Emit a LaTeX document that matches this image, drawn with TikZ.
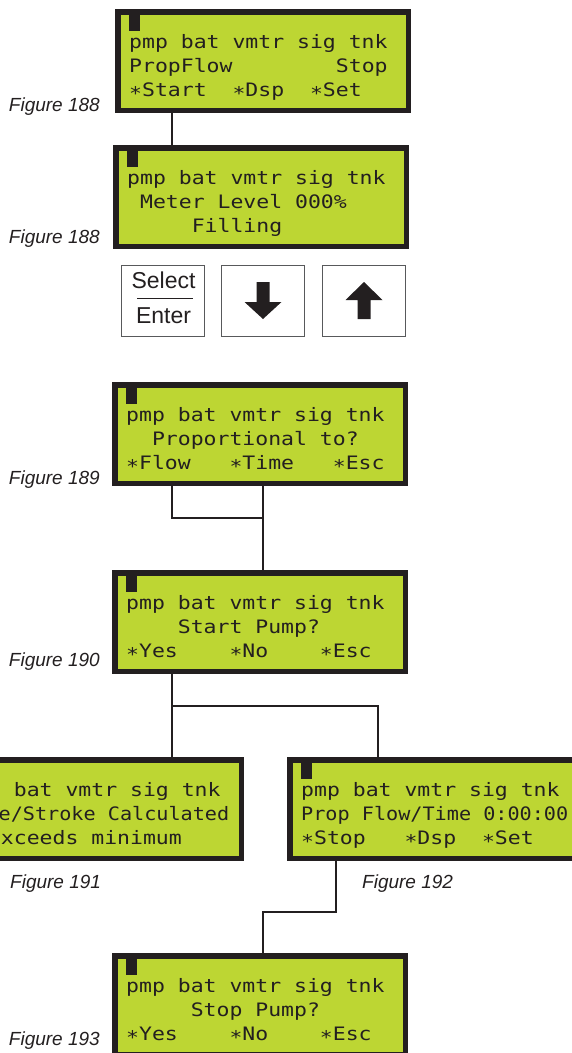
\documentclass[tikz,border=0pt]{standalone}
\usepackage{fontspec}
\usetikzlibrary{calc}
\setmainfont{Liberation Sans}
\newfontfamily\lcdfont[FakeStretch=1.16]{DejaVu Sans Mono}
\newfontfamily\lcdnarrow[FakeStretch=1.09]{DejaVu Sans Mono}
\definecolor{lcdgreen}{HTML}{BDD633}
\definecolor{ink}{HTML}{231F20}
\definecolor{keyframe}{HTML}{58595B}

\newcommand\lcd[5]{%
  \node[lcdbox] (#1) at (#2) {};
  \fill[ink] ($(#1.north west)+(14,5)$) rectangle ++(11,17);
  \node[lcdrow] (#1-r1) at ($(#1.north west)+(14,39)$) {#3};
  \node[lcdrow] (#1-r2) at ($(#1.north west)+(14,63)$) {#4};
  \node[lcdrow] (#1-r3) at ($(#1.north west)+(14,87)$) {#5};
}

\begin{document}
\begin{tikzpicture}[x=1pt,y=-1pt,
  lcdbox/.style={draw=ink,line width=5.5pt,outer sep=2.75pt,fill=lcdgreen,inner sep=0pt,
    minimum width=290.5pt,minimum height=98.5pt,anchor=north west},
  lcdrow/.style={anchor=base west,inner sep=0pt,text=ink,font=\lcdfont\fontsize{18.5}{22}\selectfont},
  keybox/.style={draw=keyframe,line width=1pt,inner sep=0pt,minimum width=83pt,minimum height=71pt},
  keytext/.style={anchor=base,inner sep=0pt,text=ink,font=\fontsize{23}{26}\selectfont},
  figlabel/.style={anchor=base east,inner sep=0pt,text=ink,font=\fontsize{19}{22}\selectfont\itshape},
  wire/.style={draw=ink,line width=2pt}]
  \useasboundingbox (0,0) rectangle (572,1053);
  \clip (0,0) rectangle (572,1053);

  \coordinate (colA) at (172,0);
  \coordinate (colB) at (263,0);
  \coordinate (colC) at (378,0);
  \coordinate (colD) at (336,0);

  \lcd{b188a}{115,9}{pmp bat vmtr sig tnk}{PropFlow~~~~~~~~Stop}{∗Start~~∗Dsp~~∗Set}
  \lcd{b188b}{113,145}{pmp bat vmtr sig tnk}{~Meter Level 000\%}{~~~~~Filling}
  \lcd{b189}{112,382}{pmp bat vmtr sig tnk}{~~Proportional to?}{∗Flow~~~∗Time~~~∗Esc}
  \lcd{b190}{112,570}{pmp bat vmtr sig tnk}{~~~~Start Pump?}{∗Yes~~~~∗No~~~~∗Esc}
  \lcd{b191}{-52,757}{~~~~bat vmtr sig tnk}{\lcdnarrow~~~e/Stroke Calculated}{~~~xceeds minimum}
  \lcd{b192}{287,757}{pmp bat vmtr sig tnk}{\lcdnarrow Prop Flow/Time 0:00:00}{∗Stop~~~∗Dsp~~∗Set}
  \lcd{b193}{112,953}{pmp bat vmtr sig tnk}{~~~~~Stop Pump?}{∗Yes~~~~∗No~~~~∗Esc}

  \node[figlabel] (f188a) at (100,111) {Figure 188};
  \node[figlabel] (f188b) at (100,243) {Figure 188};
  \node[figlabel] (f189) at (100,484) {Figure 189};
  \node[figlabel] (f190) at (100,666) {Figure 190};
  \node[figlabel,anchor=base west] (f191) at (10,888) {Figure 191};
  \node[figlabel,anchor=base west] (f192) at (362,888) {Figure 192};
  \node[figlabel] (f193) at (100,1045) {Figure 193};

  \node[keybox] (kSel) at (162.5,300.5) {};
  \node[keybox] (kDown) at (263,300.5) {};
  \node[keybox] (kUp) at (364,300.5) {};
  \node[keytext] (tSel) at (163.5,288) {Select};
  \node[keytext] (tEnt) at (163.5,323) {Enter};
  \draw[ink,line width=0.8pt] ($(kSel.center)+(-25.5,-2.5)$) -- ++(56,0);
  \fill[ink] ($(kDown.center)+(-6.5,-18.5)$) -- ++(13,0) -- ++(0,20) -- ++(12,0)
    -- ++(-18.5,17) -- ++(-18.5,-17) -- ++(12,0) -- cycle;
  \fill[ink] ($(kUp.center)+(0,-18.5)$) -- ++(18.5,18) -- ++(-12,0) -- ++(0,19)
    -- ++(-13,0) -- ++(0,-19) -- ++(-12,0) -- cycle;

  \draw[wire] (b188a.south -| colA) -- (b188b.north -| colA);
  \draw[wire] (b189.south -| colA) |- (0,518 -| colB);
  \draw[wire] (b189.south -| colB) -- (b190.north -| colB);
  \draw[wire] (b190.south -| colA) -- (b191.north -| colA);
  \draw[wire] (b190.south -| colA) ++(0,32) -| (b192.north -| colC);
  \draw[wire] (b192.south -| colD) |- (0,912 -| colB) -- (b193.north -| colB);
\end{tikzpicture}
\end{document}
